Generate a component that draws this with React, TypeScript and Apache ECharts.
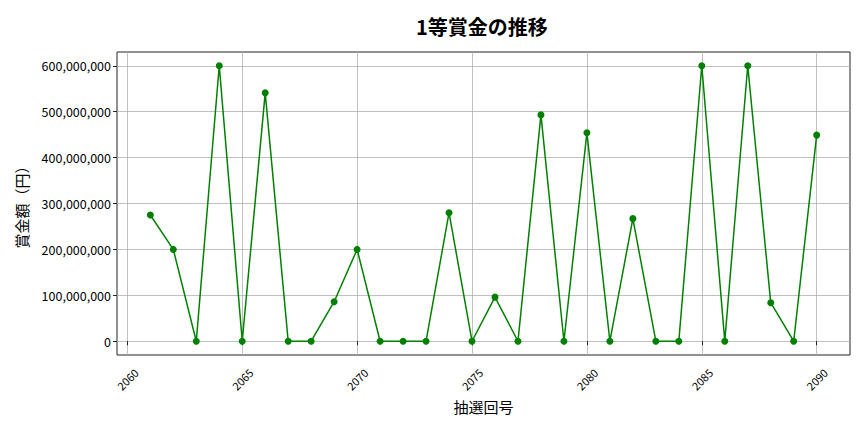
import React, { useEffect, useRef } from "react";
import * as echarts from "echarts";

const draws = [2061, 2062, 2063, 2064, 2065, 2066, 2067, 2068, 2069, 2070, 2071, 2072, 2073, 2074, 2075, 2076, 2077, 2078, 2079, 2080, 2081, 2082, 2083, 2084, 2085, 2086, 2087, 2088, 2089, 2090];
const prizes = [275000000, 200000000, 0, 600000000, 0, 541000000, 0, 0, 86000000, 200000000, 0, 0, 0, 280000000, 0, 96000000, 0, 493000000, 0, 454000000, 0, 267000000, 0, 0, 600000000, 0, 600000000, 84000000, 0, 449000000];
const xTicks = [2060, 2065, 2070, 2075, 2080, 2085, 2090];
const yTicks = [0, 100000000, 200000000, 300000000, 400000000, 500000000, 600000000];

const FONT = "'Noto Sans CJK JP', 'Noto Sans', sans-serif";

export default function App() {
  const ref = useRef<HTMLDivElement>(null);
  useEffect(() => {
    const chart = echarts.init(ref.current!, null, { renderer: "svg" });
    chart.setOption({
      animation: false,
      backgroundColor: "#ffffff",
      textStyle: { fontFamily: FONT },
      title: {
        text: "1等賞金の推移",
        left: 411,
        top: 11,
        textStyle: { fontFamily: FONT, fontSize: 20, fontWeight: "bold", color: "#000" },
      },
      grid: {
        left: 117,
        right: 14,
        top: 52,
        bottom: 77,
        show: true,
        borderColor: "#222",
        borderWidth: 1,
      },
      xAxis: {
        type: "value",
        min: 2059.55,
        max: 2091.45,
        name: "抽選回号",
        nameLocation: "middle",
        nameGap: 44,
        nameTextStyle: { fontFamily: FONT, fontSize: 15, color: "#000" },
        axisLine: { show: false },
        axisTick: { show: true, customValues: xTicks, length: 4, lineStyle: { color: "#222" } },
        axisLabel: {
          customValues: xTicks,
          rotate: 45,
          align: "center",
          verticalAlign: "middle",
          fontSize: 11,
          color: "#000",
          fontFamily: FONT,
          margin: 24,
          formatter: (v: number) => String(v),
        },
        splitLine: { show: true, lineStyle: { color: "#b0b0b0", width: 0.8 } },
      },
      yAxis: {
        type: "value",
        min: -30000000,
        max: 630000000,
        name: "賞金額（円）",
        nameLocation: "middle",
        nameGap: 88,
        nameRotate: 90,
        nameTextStyle: { fontFamily: FONT, fontSize: 15, color: "#000" },
        axisLine: { show: false },
        axisTick: { show: true, customValues: yTicks, length: 4, lineStyle: { color: "#222" } },
        axisLabel: {
          customValues: yTicks,
          fontSize: 12.5,
          color: "#000",
          fontFamily: FONT,
          margin: 6,
          formatter: (v: number) => v.toLocaleString("en-US"),
        },
        splitLine: { show: true, lineStyle: { color: "#b0b0b0", width: 0.8 } },
      },
      series: [
        {
          type: "line",
          data: draws.map((d, i) => [d, prizes[i]]),
          symbol: "circle",
          symbolSize: 7,
          itemStyle: { color: "#008000" },
          lineStyle: { color: "#008000", width: 1.5 },
        },
      ],
    });
    return () => chart.dispose();
  }, []);
  return <div ref={ref} style={{ position: "fixed", left: 0, top: 0, width: 864, height: 432 }} />;
}
